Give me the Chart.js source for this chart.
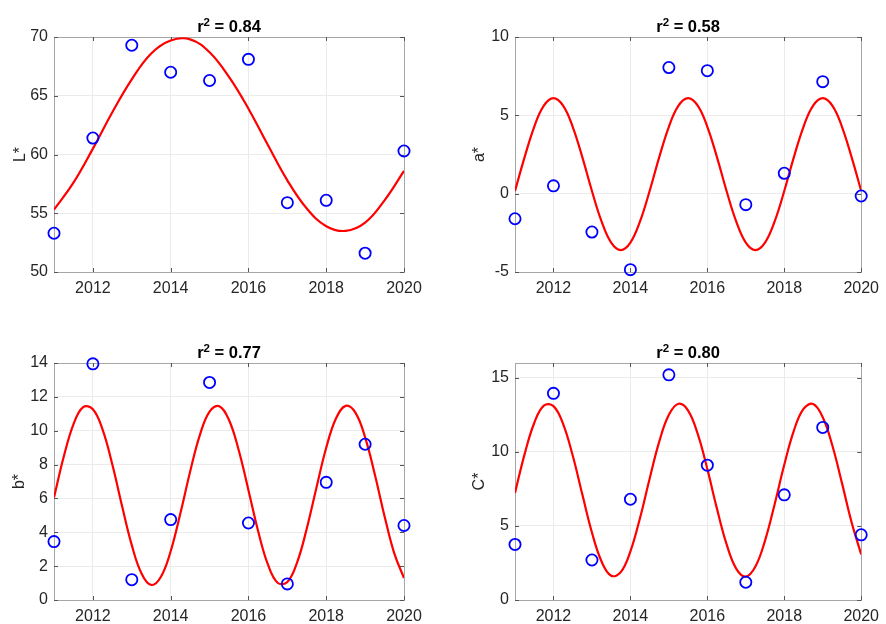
<!DOCTYPE html>
<html>
<head>
<meta charset="utf-8">
<script src="https://cdn.jsdelivr.net/npm/chart.js@4.4.1/dist/chart.umd.min.js"></script>
<style>
  html, body { margin: 0; padding: 0; background: #fff; }
  #wrap { position: relative; width: 886px; height: 624px; overflow: hidden; }
  canvas { position: absolute; }
</style>
</head>
<body>
<div id="wrap">
  <canvas id="chartL" width="443" height="310" style="left:0;top:0"></canvas>
  <canvas id="chartA" width="443" height="310" style="left:443px;top:0"></canvas>
  <canvas id="chartB" width="443" height="314" style="left:0;top:310px"></canvas>
  <canvas id="chartC" width="443" height="314" style="left:443px;top:310px"></canvas>
</div>
<script>
// measured years and colour values
const years = [2011, 2012, 2013, 2014, 2015, 2016, 2017, 2018, 2019, 2020];
const lValues = [53.3, 61.4, 69.3, 67.0, 66.3, 68.1, 55.9, 56.1, 51.6, 60.3];
const aValues = [-1.6, 0.5, -2.45, -4.85, 8.05, 7.85, -0.7, 1.3, 7.15, -0.15];
const bValues = [3.45, 13.95, 1.2, 4.75, 12.85, 4.55, 0.95, 6.95, 9.2, 4.4];
const cValues = [3.75, 13.95, 2.7, 6.8, 15.2, 9.1, 1.2, 7.1, 11.65, 4.4];

// fitted curves
const fitYearsHalf = [2011, 2011.5, 2012, 2012.5, 2013, 2013.5, 2014, 2014.5, 2015, 2015.5,
  2016, 2016.5, 2017, 2017.5, 2018, 2018.5, 2019, 2019.5, 2020];
const fitYearsQuarter = [2011, 2011.25, 2011.5, 2011.75, 2012, 2012.25, 2012.5, 2012.75,
  2013, 2013.25, 2013.5, 2013.75, 2014, 2014.25, 2014.5, 2014.75, 2015, 2015.25, 2015.5, 2015.75,
  2016, 2016.25, 2016.5, 2016.75, 2017, 2017.25, 2017.5, 2017.75, 2018, 2018.25, 2018.5, 2018.75,
  2019, 2019.25, 2019.5, 2019.75, 2020];
const lFit = [55.3, 57.6, 60.5, 63.6, 66.4, 68.6, 69.7, 69.8, 68.7, 66.6, 63.9, 60.8, 57.8,
  55.4, 53.9, 53.5, 54.2, 56.1, 58.6];
const aFit = [0.17, 2.33, 4.27, 5.62, 6.10, 5.62, 4.27, 2.33, 0.17, -1.77, -3.12, -3.60, -3.12,
  -1.77, 0.17, 2.33, 4.27, 5.62, 6.10, 5.62, 4.27, 2.33, 0.17, -1.77, -3.12, -3.60, -3.12, -1.77,
  0.17, 2.33, 4.27, 5.62, 6.10, 5.62, 4.27, 2.33, 0.17];
const bFit = [6.05, 8.46, 10.38, 11.39, 11.27, 10.06, 8.00, 5.55, 3.24, 1.57, 0.89, 1.37, 2.88,
  5.12, 7.58, 9.74, 11.13, 11.45, 10.63, 8.85, 6.49, 4.06, 2.10, 1.02, 1.06, 2.21, 4.22, 6.65,
  8.99, 10.72, 11.47, 11.07, 9.61, 7.42, 4.95, 2.75, 1.30];
const cFit = [7.23, 9.85, 11.95, 13.12, 13.09, 11.89, 9.75, 7.13, 4.56, 2.60, 1.64, 1.88, 3.28,
  5.54, 8.19, 10.69, 12.50, 13.25, 12.79, 11.21, 8.84, 6.17, 3.77, 2.12, 1.58, 2.26, 4.01, 6.47,
  9.13, 11.44, 12.90, 13.23, 12.34, 10.43, 7.89, 5.25, 3.07];

// ticks and labels
const xTicks = [2012, 2014, 2016, 2018, 2020];
const lTicks = [50, 55, 60, 65, 70];
const aTicks = [-5, 0, 5, 10];
const bTicks = [0, 2, 4, 6, 8, 10, 12, 14];
const cTicks = [0, 5, 10, 15];
const r2Labels = ['0.84', '0.58', '0.77', '0.80'];
const yTitles = ['L*', 'a*', 'b*', 'C*'];

const FONT = "'Liberation Sans', Arial, Helvetica, sans-serif";
const TEXT = '#262626';

// box, inner ticks and the r^2 title
const matlabAxes = {
  id: 'matlabAxes',
  beforeDatasetsDraw(chart) {
    const ctx = chart.ctx;
    const a = chart.chartArea;
    const xs = chart.scales.x, ys = chart.scales.y;
    ctx.save();
    ctx.strokeStyle = '#a6a6a6';
    ctx.lineWidth = 1;
    ctx.strokeRect(Math.round(a.left) + 0.5, Math.round(a.top) + 0.5,
      Math.round(a.right - a.left), Math.round(a.bottom - a.top));
    ctx.strokeStyle = '#555';
    ctx.beginPath();
    xs.ticks.forEach(t => {
      const px = Math.round(xs.getPixelForValue(t.value)) + 0.5;
      ctx.moveTo(px, a.bottom); ctx.lineTo(px, a.bottom - 4);
      ctx.moveTo(px, a.top); ctx.lineTo(px, a.top + 4);
    });
    ys.ticks.forEach(t => {
      const py = Math.round(ys.getPixelForValue(t.value)) + 0.5;
      ctx.moveTo(a.left, py); ctx.lineTo(a.left + 4, py);
      ctx.moveTo(a.right, py); ctx.lineTo(a.right - 4, py);
    });
    ctx.stroke();
    ctx.restore();
  },
  afterDraw(chart, args, opts) {
    const ctx = chart.ctx;
    const a = chart.chartArea;
    const big = 'bold 16.5px ' + FONT, small = 'bold 11.5px ' + FONT;
    const rest = ' = ' + opts.r2;
    ctx.save();
    ctx.fillStyle = '#000';
    ctx.textBaseline = 'alphabetic';
    ctx.font = big;
    const wR = ctx.measureText('r').width, wRest = ctx.measureText(rest).width;
    ctx.font = small;
    const w2 = ctx.measureText('2').width;
    let x = (a.left + a.right) / 2 - (wR + w2 + wRest) / 2;
    const base = a.top - 5;
    ctx.textAlign = 'left';
    ctx.font = big;
    ctx.fillText('r', x, base); x += wR;
    ctx.font = small;
    ctx.fillText('2', x, base - 6.5); x += w2;
    ctx.font = big;
    ctx.fillText(rest, x, base);
    ctx.restore();
  }
};

function makePanel(id, cfg) {
  const points = years.map((yr, i) => ({ x: yr, y: cfg.values[i] }));
  const curve = cfg.fitX.map((yr, i) => ({ x: yr, y: cfg.fitY[i] }));
  return new Chart(document.getElementById(id), {
    type: 'scatter',
    data: {
      datasets: [{
        data: points,
        pointStyle: 'circle',
        pointRadius: 5.6,
        pointBorderWidth: 1.8,
        borderColor: '#0000ff',
        backgroundColor: 'rgba(0,0,0,0)',
        clip: false
      }, {
        data: curve,
        showLine: true,
        borderColor: '#ff0000',
        borderWidth: 2.2,
        pointRadius: 0,
        tension: 0.4
      }]
    },
    options: {
      responsive: false,
      animation: false,
      events: [],
      layout: { padding: { top: cfg.padTop, right: cfg.padRight, left: 0, bottom: 0 } },
      plugins: {
        legend: { display: false },
        tooltip: { enabled: false },
        matlabAxes: { r2: cfg.r2 }
      },
      scales: {
        x: {
          type: 'linear',
          min: 2011,
          max: 2020,
          afterBuildTicks: s => { s.ticks = xTicks.map(v => ({ value: v })); },
          afterFit: s => { s.height = cfg.xH; },
          grid: { color: '#ebebeb', drawTicks: false },
          border: { display: false },
          ticks: {
            padding: 7,
            color: TEXT,
            font: { family: FONT, size: 16 },
            maxRotation: 0,
            callback: v => String(v)
          }
        },
        y: {
          min: cfg.yMin,
          max: cfg.yMax,
          afterBuildTicks: s => { s.ticks = cfg.yTicks.map(v => ({ value: v })); },
          afterFit: s => { s.width = cfg.yW; },
          grid: { color: '#ebebeb', drawTicks: false },
          border: { display: false },
          ticks: {
            padding: 6,
            color: TEXT,
            font: { family: FONT, size: 16 },
            callback: v => String(v)
          },
          title: {
            display: true,
            text: cfg.yTitle,
            color: TEXT,
            font: { family: FONT, size: 16 },
            padding: { top: cfg.titlePad, bottom: 0 }
          }
        }
      }
    },
    plugins: [matlabAxes]
  });
}

makePanel('chartL', { values: lValues, fitX: fitYearsHalf, fitY: lFit, yMin: 50, yMax: 70,
  yTicks: lTicks, yTitle: yTitles[0], r2: r2Labels[0],
  yW: 54, padTop: 37, padRight: 39, xH: 38, titlePad: 11 });
makePanel('chartA', { values: aValues, fitX: fitYearsQuarter, fitY: aFit, yMin: -5, yMax: 10,
  yTicks: aTicks, yTitle: yTitles[1], r2: r2Labels[1],
  yW: 72, padTop: 37, padRight: 21, xH: 38, titlePad: 27 });
makePanel('chartB', { values: bValues, fitX: fitYearsQuarter, fitY: bFit, yMin: 0, yMax: 14,
  yTicks: bTicks, yTitle: yTitles[2], r2: r2Labels[2],
  yW: 54, padTop: 53, padRight: 39, xH: 24, titlePad: 10 });
makePanel('chartC', { values: cValues, fitX: fitYearsQuarter, fitY: cFit, yMin: 0, yMax: 16,
  yTicks: cTicks, yTitle: yTitles[3], r2: r2Labels[3],
  yW: 72, padTop: 53, padRight: 21, xH: 24, titlePad: 27 });
</script>
</body>
</html>
